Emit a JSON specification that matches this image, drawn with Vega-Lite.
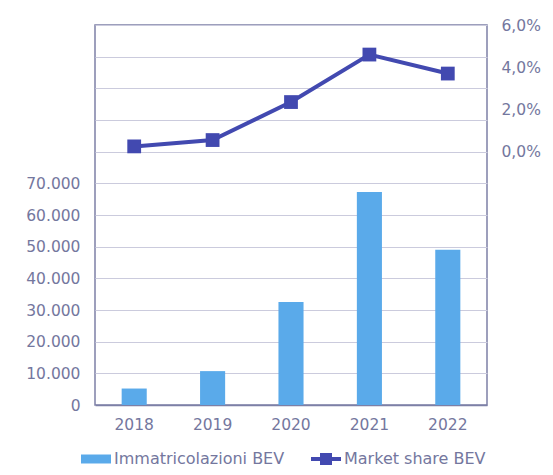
{
  "$schema": "https://vega.github.io/schema/vega-lite/v6.json",
  "autosize": "none",
  "width": 392,
  "height": 380,
  "padding": {"left": 95, "top": 25, "right": 66, "bottom": 70},
  "background": "white",
  "config": {
    "font": "DejaVu Sans",
    "view": {"stroke": "#7d80a6", "strokeWidth": 1.5},
    "axis": {
      "labelColor": "#74779e",
      "labelFont": "DejaVu Sans",
      "labelFontSize": 15.5,
      "ticks": false,
      "domain": false,
      "title": null
    },
    "legend": {
      "labelColor": "#74779e",
      "labelFont": "DejaVu Sans",
      "labelFontSize": 16,
      "labelLimit": 300
    }
  },
  "data": {
    "values": [
      {"anno": "2018", "immatricolazioni": 5200, "share": 0.25},
      {"anno": "2019", "immatricolazioni": 10700, "share": 0.55},
      {"anno": "2020", "immatricolazioni": 32500, "share": 2.35},
      {"anno": "2021", "immatricolazioni": 67300, "share": 4.6},
      {"anno": "2022", "immatricolazioni": 49000, "share": 3.7}
    ]
  },
  "encoding": {
    "x": {
      "field": "anno",
      "type": "nominal",
      "sort": null,
      "scale": {"paddingInner": 0.68, "paddingOuter": 0.34},
      "axis": {"labelAngle": 0, "labelPadding": 12, "domain": true, "domainColor": "#7d80a6", "domainWidth": 1.5}
    }
  },
  "layer": [
    {
      "mark": {"type": "bar"},
      "encoding": {
        "y": {
          "field": "immatricolazioni",
          "type": "quantitative",
          "scale": {"domain": [0, 120000], "nice": false},
          "axis": {
            "values": [0, 10000, 20000, 30000, 40000, 50000, 60000, 70000, 80000, 90000, 100000, 110000, 120000],
            "labelExpr": "datum.value <= 70000 ? replace(format(datum.value, ','), ',', '.') : ''",
            "labelPadding": 15,
            "grid": true,
            "gridColor": "#cbcbdd",
            "gridWidth": 1.2
          }
        },
        "color": {
          "datum": "Immatricolazioni BEV",
          "scale": {
            "domain": ["Immatricolazioni BEV", "Market share BEV"],
            "range": ["#5aaaea", "#4249b0"]
          },
          "legend": {
            "title": null,
            "orient": "none",
            "legendX": -14,
            "legendY": 419,
            "direction": "horizontal",
            "symbolSize": 900,
            "columnPadding": 26,
            "labelOffset": 3,
            "encode": {
              "symbols": {
                "update": {
                  "shape": {"signal": "datum.value === 'Market share BEV' ? 'M-1,-0.13H1V0.13H-1Z M-0.4,-0.4H0.4V0.4H-0.4Z' : 'M-1,-0.3H1V0.3H-1Z'"},
                  "fill": {"signal": "datum.value === 'Market share BEV' ? '#4249b0' : '#5aaaea'"},
                  "strokeWidth": {"value": 0},
                  "opacity": {"value": 1},
                  "fillOpacity": {"value": 1}
                }
              }
            }
          }
        }
      }
    },
    {
      "mark": {"type": "line", "color": "#4249b0", "strokeWidth": 4, "point": {"shape": "square", "size": 190, "filled": true, "color": "#4249b0", "opacity": 1}},
      "encoding": {
        "y": {
          "field": "share",
          "type": "quantitative",
          "scale": {"domain": [-12, 6], "nice": false},
          "axis": {
            "orient": "right",
            "values": [0, 2, 4, 6],
            "labelExpr": "replace(format(datum.value, '.1f'), '.', ',') + '%'",
            "labelPadding": 14,
            "grid": false
          }
        }
      }
    }
  ],
  "resolve": {"scale": {"y": "independent"}}
}
